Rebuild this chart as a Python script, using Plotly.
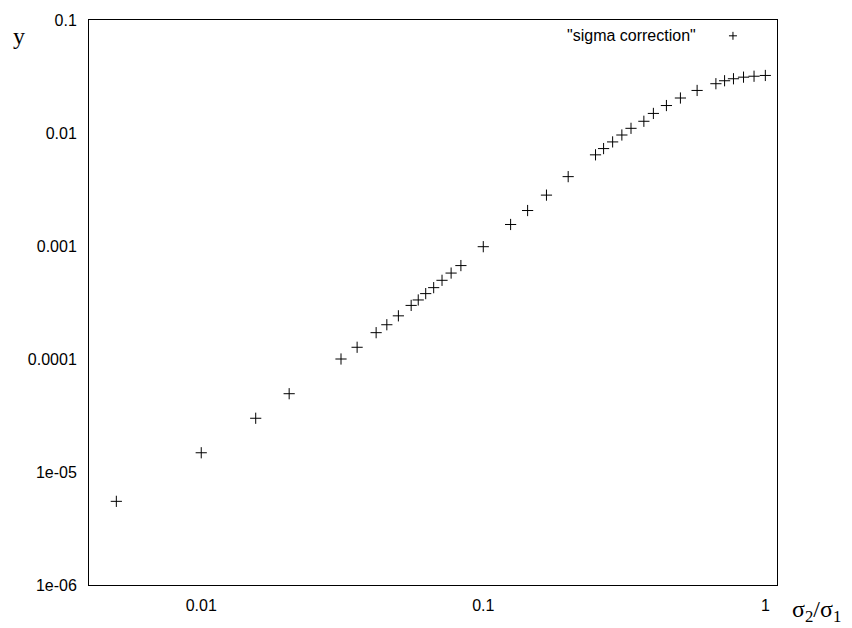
import plotly.graph_objects as go
import numpy as np

# ratio sigma2/sigma1
x_vals = [0.005, 0.01, 0.0156, 0.0205, 0.0313, 0.0357, 0.0417, 0.0455, 0.05, 0.0555,
          0.0588, 0.0625, 0.0667, 0.0714, 0.0769, 0.0833, 0.1, 0.125, 0.1436, 0.1675,
          0.2, 0.25, 0.267, 0.2875, 0.31, 0.334, 0.371, 0.401, 0.446, 0.5,
          0.573, 0.668, 0.717, 0.771, 0.837, 0.912, 1.0]
# sigma correction
y_vals = [5.5e-6, 1.48e-5, 2.99e-5, 4.93e-5, 1.0e-4, 1.27e-4, 1.71e-4, 2.01e-4, 2.41e-4, 2.98e-4,
          3.33e-4, 3.79e-4, 4.28e-4, 4.97e-4, 5.76e-4, 6.71e-4, 9.86e-4, 1.55e-3, 2.06e-3, 2.82e-3,
          4.11e-3, 6.41e-3, 7.28e-3, 8.34e-3, 9.6e-3, 1.1e-2, 1.27e-2, 1.49e-2, 1.75e-2, 2.04e-2,
          2.38e-2, 2.73e-2, 2.9e-2, 3.02e-2, 3.12e-2, 3.18e-2, 3.23e-2]

x_tickvals = [0.01, 0.1, 1]
x_ticktext = ["0.01", "0.1", "1"]
y_tickvals = [1e-6, 1e-5, 1e-4, 1e-3, 1e-2, 1e-1]
y_ticktext = ["1e-06", "1e-05", "0.0001", "0.001", "0.01", "0.1"]
series_name = '"sigma correction"'

x_lo, x_hi = 0.004, 1.1
y_lo, y_hi = 1e-6, 0.1
x_minor = [m * 10.0 ** e for e in range(-3, 1) for m in range(2, 10)]
y_minor = [m * 10.0 ** e for e in range(-6, -1) for m in range(2, 10)]

W, H = 852, 628
ML, MR, MT, MB = 89, 75, 15, 43
PW, PH = W - ML - MR, H - MT - MB

fig = go.Figure()
fig.add_trace(go.Scatter(
    x=x_vals, y=y_vals, mode="markers", name=series_name, showlegend=False,
    marker=dict(symbol="cross-thin", size=8, color="black",
                line=dict(color="black", width=1)),
))

tick_font = dict(family="Liberation Sans, Arial, sans-serif", size=16, color="black")
serif = dict(family="Liberation Serif, Times New Roman, serif", size=24, color="black")

fig.update_xaxes(
    type="log", range=[np.log10(x_lo), np.log10(x_hi)],
    tickmode="array", tickvals=x_tickvals, ticktext=x_ticktext, ticks="",
    showline=True, linecolor="black", linewidth=1, mirror=True,
    showgrid=False, zeroline=False, tickfont=tick_font, ticklabelstandoff=6,
)
fig.update_yaxes(
    type="log", range=[np.log10(y_lo), np.log10(y_hi)],
    tickmode="array", tickvals=y_tickvals, ticktext=y_ticktext, ticks="",
    showline=True, linecolor="black", linewidth=1, mirror=True,
    showgrid=False, zeroline=False, tickfont=tick_font, ticklabelstandoff=8,
)

# gnuplot-style inward ticks on all four sides (major 8 px, minor 4 px)
tick_line = dict(color="black", width=1)
def x_ticks(vals, length):
    for v in vals:
        if not (x_lo <= v <= x_hi):
            continue
        lv = np.log10(v)
        fig.add_shape(type="line", xref="x", yref="paper", x0=lv, x1=lv,
                      y0=0, y1=length / PH, line=tick_line, layer="above")
        fig.add_shape(type="line", xref="x", yref="paper", x0=lv, x1=lv,
                      y0=1, y1=1 - length / PH, line=tick_line, layer="above")

def y_ticks(vals, length):
    for v in vals:
        if not (y_lo <= v <= y_hi):
            continue
        lv = np.log10(v)
        fig.add_shape(type="line", xref="paper", yref="y", y0=lv, y1=lv,
                      x0=0, x1=length / PW, line=tick_line, layer="above")
        fig.add_shape(type="line", xref="paper", yref="y", y0=lv, y1=lv,
                      x0=1, x1=1 - length / PW, line=tick_line, layer="above")

x_ticks(x_tickvals, 8)
x_ticks(x_minor, 4)
y_ticks(y_tickvals, 8)
y_ticks(y_minor, 4)

fig.add_annotation(text="y", xref="paper", yref="paper", x=-0.1017, y=0.972,
                   xanchor="center", yanchor="middle", showarrow=False, font=serif)
fig.add_annotation(text="σ<sub>2</sub>/σ<sub>1</sub>", xref="paper", yref="paper",
                   x=1.058, y=-0.046, xanchor="center", yanchor="middle",
                   showarrow=False, font=serif)
fig.add_annotation(text=series_name, xref="paper", yref="paper", x=0.885, y=0.972,
                   xanchor="right", yanchor="middle", showarrow=False, font=tick_font)

# legend sample "+"
lx, ly, hw, hh = 0.936, 0.972, 4 / PW, 4 / PH
fig.add_shape(type="line", xref="paper", yref="paper", x0=lx - hw, x1=lx + hw,
              y0=ly, y1=ly, line=tick_line)
fig.add_shape(type="line", xref="paper", yref="paper", x0=lx, x1=lx,
              y0=ly - hh, y1=ly + hh, line=tick_line)

fig.update_layout(
    width=W, height=H,
    margin=dict(l=ML, r=MR, t=MT, b=MB),
    paper_bgcolor="white", plot_bgcolor="white",
    showlegend=False,
)

fig.write_html("out.html")
